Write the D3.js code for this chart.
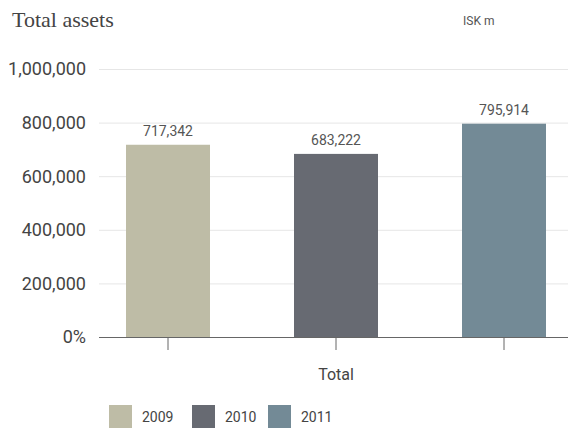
<!DOCTYPE html>
<html>
<head>
<meta charset="utf-8">
<script src="https://cdn.jsdelivr.net/npm/d3@7/dist/d3.min.js"></script>
<style>
  html, body { margin: 0; padding: 0; background: #fff; }
  svg { display: block; }
</style>
</head>
<body>
<svg id="chart" width="568" height="428"></svg>
<script>
// Total assets by year, ISK millions
const years = ["2009", "2010", "2011"];
const values = [717342, 683222, 795914];
const colors = ["#bebca6", "#676a72", "#738a96"];
const yTicks = [0, 200000, 400000, 600000, 800000, 1000000];
const categoryLabel = "Total";

const svg = d3.select("#chart");
const sans = "Roboto, 'Open Sans', sans-serif";

const y = d3.scaleLinear().domain([0, 1000000]).range([337, 69]);
const x = d3.scaleBand().domain(years).range([84, 588])
  .paddingInner(0.5).paddingOuter(0.25);

// Title and unit
svg.append("text")
  .attr("x", 12).attr("y", 27)
  .attr("font-family", "'Liberation Serif', serif")
  .attr("font-size", 22)
  .attr("fill", "#444")
  .text("Total assets");

svg.append("text")
  .attr("x", 463).attr("y", 25)
  .attr("font-family", sans)
  .attr("font-size", 12)
  .attr("fill", "#555")
  .text("ISK m");

// Gridlines
svg.append("g")
  .selectAll("line")
  .data(yTicks.slice(1))
  .join("line")
  .attr("x1", 99).attr("x2", 568)
  .attr("y1", d => y(d) + 0.5).attr("y2", d => y(d) + 0.5)
  .attr("stroke", "#e6e6e6");

// Y axis labels
const fmt = d3.format(",");
svg.append("g")
  .selectAll("text")
  .data(yTicks)
  .join("text")
  .attr("x", 86)
  .attr("y", d => y(d))
  .attr("dy", "0.35em")
  .attr("text-anchor", "end")
  .attr("font-family", sans)
  .attr("font-size", 18)
  .attr("fill", "#444")
  .text(d => d === 0 ? "0%" : fmt(d));

// Bars
svg.append("g")
  .selectAll("rect")
  .data(values)
  .join("rect")
  .attr("x", (d, i) => x(years[i]))
  .attr("width", x.bandwidth())
  .attr("y", d => y(d))
  .attr("height", d => y(0) - y(d))
  .attr("fill", (d, i) => colors[i]);

// Value labels
svg.append("g")
  .selectAll("text")
  .data(values)
  .join("text")
  .attr("x", (d, i) => x(years[i]) + x.bandwidth() / 2)
  .attr("y", d => y(d) - 9)
  .attr("text-anchor", "middle")
  .attr("font-family", sans)
  .attr("font-size", 14)
  .attr("fill", "#555")
  .text(d => fmt(d));

// X axis: baseline and ticks under each bar
svg.append("line")
  .attr("x1", 99).attr("x2", 568)
  .attr("y1", y(0) + 0.5).attr("y2", y(0) + 0.5)
  .attr("stroke", "#666");

const xAxis = svg.append("g")
  .attr("transform", `translate(0,${y(0)})`)
  .call(d3.axisBottom(x).tickFormat("").tickSizeInner(13).tickSizeOuter(0));
xAxis.select(".domain").remove();
xAxis.selectAll(".tick line").attr("stroke", "#666");

svg.append("text")
  .attr("x", (x(years[1]) + x.bandwidth() / 2))
  .attr("y", 380)
  .attr("text-anchor", "middle")
  .attr("font-family", sans)
  .attr("font-size", 16)
  .attr("fill", "#444")
  .text(categoryLabel);

// Legend
const legendX = [109, 192, 268];
const legend = svg.append("g")
  .selectAll("g")
  .data(years)
  .join("g")
  .attr("transform", (d, i) => `translate(${legendX[i]},405)`);
legend.append("rect")
  .attr("width", 23).attr("height", 23)
  .attr("fill", (d, i) => colors[i]);
legend.append("text")
  .attr("x", 33).attr("y", 17)
  .attr("font-family", sans)
  .attr("font-size", 14)
  .attr("fill", "#444")
  .text(d => d);
</script>
</body>
</html>
